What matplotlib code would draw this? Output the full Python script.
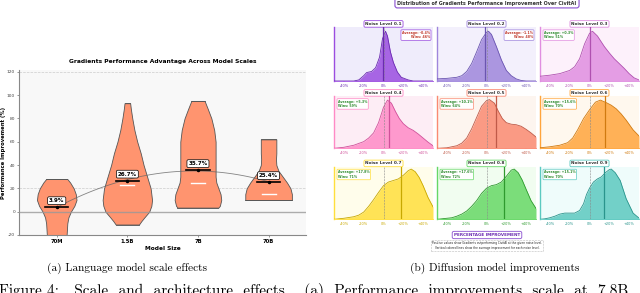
import numpy as np
import matplotlib
matplotlib.use("Agg")
import matplotlib.pyplot as plt

# ---------------- data: left violin chart ----------------
model_sizes = ["70M", "1.5B", "7B", "70B"]
mean_improvement = [3.9, 26.7, 35.7, 25.4]
median_improvement = [9.4, 22.6, 25.0, 15.4]
# violin profiles: y levels and half widths (category units)
v70m_y = [-22, -20, -10, -5, 0, 5, 10, 15, 20, 25, 28]
v70m_w = [0.14, 0.14, 0.15, 0.165, 0.2, 0.25, 0.28, 0.27, 0.24, 0.19, 0.15]
v15b_y = [-11, -8, -5, 0, 5, 10, 20, 30, 40, 50, 60, 70, 80, 88, 93]
v15b_w = [0.165, 0.2, 0.24, 0.31, 0.34, 0.35, 0.33, 0.28, 0.23, 0.19, 0.14, 0.1, 0.07, 0.05, 0.04]
v7b_y = [3.5, 5, 10, 15, 20, 25, 30, 40, 50, 60, 70, 80, 88, 95]
v7b_w = [0.29, 0.31, 0.33, 0.32, 0.29, 0.26, 0.25, 0.25, 0.25, 0.25, 0.23, 0.19, 0.14, 0.094]
v70b_y = [10, 15, 20, 25, 30, 35, 40, 45, 50, 55, 62]
v70b_w = [0.33, 0.33, 0.31, 0.26, 0.2, 0.14, 0.11, 0.105, 0.11, 0.11, 0.11]
violin_ys = [v70m_y, v15b_y, v7b_y, v70b_y]
violin_ws = [v70m_w, v15b_w, v7b_w, v70b_w]
y_ticks = [-20, 0, 20, 40, 60, 80, 100, 120]

# ---------------- data: right density panels ----------------
noise_levels = ["0.1", "0.2", "0.3", "0.4", "0.5", "0.6", "0.7", "0.8", "0.9"]
averages = [-0.4, -1.1, 0.3, 5.3, 10.1, 15.6, 17.8, 17.6, 15.1]
wins = [46, 48, 51, 59, 64, 70, 71, 72, 70]
d1_x = [-50, -30, -25, -20, -17, -12, -8, -4, -1, 2, 4, 7, 10, 14, 18, 25, 30, 50]
d1_h = [0, 0, 0.02, 0.1, 0.16, 0.18, 0.25, 0.45, 0.8, 0.94, 0.85, 0.55, 0.35, 0.17, 0.07, 0.02, 0, 0]
d2_x = [-50, -40, -30, -25, -20, -15, -10, -5, 0, 2, 5, 10, 15, 20, 25, 30, 35, 40, 50]
d2_h = [0.04, 0.05, 0.07, 0.1, 0.18, 0.33, 0.55, 0.78, 0.92, 0.94, 0.88, 0.65, 0.4, 0.2, 0.1, 0.04, 0.01, 0, 0]
d3_x = [-50, -40, -30, -20, -15, -10, -5, 0, 3, 8, 15, 20, 25, 30, 35, 40, 45, 50]
d3_h = [0.09, 0.11, 0.14, 0.2, 0.27, 0.42, 0.7, 0.9, 0.94, 0.85, 0.65, 0.53, 0.42, 0.33, 0.24, 0.14, 0.06, 0.02]
d4_x = [-50, -40, -30, -20, -15, -10, -5, 0, 4, 8, 12, 16, 20, 25, 30, 35, 40, 45, 50]
d4_h = [0, 0.02, 0.06, 0.13, 0.2, 0.3, 0.5, 0.8, 0.94, 0.88, 0.72, 0.58, 0.48, 0.4, 0.35, 0.28, 0.2, 0.12, 0.05]
d5_x = [-50, -40, -30, -25, -20, -15, -10, -5, 0, 3, 8, 12, 16, 20, 25, 30, 35, 40, 45, 50]
d5_h = [0, 0.01, 0.05, 0.1, 0.2, 0.38, 0.6, 0.82, 0.93, 0.95, 0.88, 0.72, 0.58, 0.5, 0.47, 0.46, 0.43, 0.37, 0.3, 0.22]
d6_x = [-50, -40, -30, -22, -17, -12, -6, 0, 6, 11, 17, 22, 27, 32, 37, 44, 50]
d6_h = [0.01, 0.03, 0.06, 0.11, 0.2, 0.36, 0.58, 0.75, 0.9, 0.94, 0.89, 0.84, 0.77, 0.67, 0.55, 0.36, 0.24]
d7_x = [-50, -40, -30, -25, -20, -15, -10, -5, 0, 5, 10, 15, 20, 25, 28, 32, 36, 40, 45, 50]
d7_h = [0, 0.02, 0.05, 0.08, 0.14, 0.25, 0.38, 0.52, 0.65, 0.72, 0.75, 0.78, 0.85, 0.94, 0.97, 0.92, 0.81, 0.65, 0.42, 0.24]
d8_x = [-50, -45, -35, -30, -25, -20, -15, -10, -5, 0, 5, 10, 15, 20, 25, 28, 32, 36, 40, 45, 50]
d8_h = [0, 0.01, 0.03, 0.06, 0.1, 0.16, 0.25, 0.36, 0.5, 0.6, 0.65, 0.67, 0.72, 0.83, 0.95, 0.97, 0.9, 0.76, 0.58, 0.36, 0.21]
d9_x = [-50, -45, -40, -35, -30, -25, -20, -15, -10, -6, -3, 0, 4, 8, 12, 16, 20, 22, 26, 31, 37, 44, 49, 50]
d9_h = [0, 0.01, 0.03, 0.06, 0.1, 0.12, 0.12, 0.12, 0.17, 0.3, 0.48, 0.6, 0.72, 0.78, 0.82, 0.9, 0.96, 0.97, 0.9, 0.75, 0.4, 0.12, 0.04, 0.03]
dens_x = [d1_x, d2_x, d3_x, d4_x, d5_x, d6_x, d7_x, d8_x, d9_x]
dens_h = [d1_h, d2_h, d3_h, d4_h, d5_h, d6_h, d7_h, d8_h, d9_h]
x_ticks = [-40, -20, 0, 20, 40]
x_ticklabels = ["-40%", "-20%", "0%", "+20%", "+40%"]

base_cols = ['#9b4de0', '#9f86dc', '#e08ee0', '#ff8ac6', '#fa8a72', '#ffa53c', '#ffdf3c', '#66d866', '#5cc9c0']
bg_cols = ['#efecfb', '#f3f0fc', '#fdf1fb', '#fdedf5', '#fdf5ef', '#fff8ee', '#fffdeb', '#f1fdf0', '#effcfb']
dark_cols = ['#6a2bb0', '#6a55b0', '#b050b0', '#d0509a', '#c05a48', '#d07a10', '#c8a800', '#2e9a2e', '#2a948c']

W, H = 640, 293
fig = plt.figure(figsize=(6.4, 2.93), dpi=100)


def rect(x0, y0, x1, y1):
    return [x0 / W, 1 - y1 / H, (x1 - x0) / W, (y1 - y0) / H]


# ---------------- left chart ----------------
ax = fig.add_axes(rect(19.3, 70, 306, 235))
ax.set_facecolor('#f8f8f8')
ax.set_xlim(-0.53, 3.53)
ax.set_ylim(-20, 121.5)
ax.axhline(20, color='#cccccc', lw=0.5, ls='--', zorder=0)
ax.axhline(120, color='#cccccc', lw=0.5, ls='--', zorder=0)
violin_col = '#ff946f'
for i in range(4):
    ys = np.array(violin_ys[i])
    ws = np.array(violin_ws[i])
    ax.fill_betweenx(ys, i - ws, i + ws, facecolor=violin_col, edgecolor='#555555', lw=0.6, zorder=2)
    ax.plot([i - ws[0], i + ws[0]], [ys[0], ys[0]], color='#555555', lw=0.6, zorder=2)
    ax.plot([i - ws[-1], i + ws[-1]], [ys[-1], ys[-1]], color='#555555', lw=0.6, zorder=2)
    ax.plot([i - 0.1, i + 0.1], [median_improvement[i]] * 2, color='white', lw=1.0, zorder=3)
ax.axhline(0, color='#999999', lw=1.0, alpha=0.8, zorder=4)
xs = np.arange(4)
coef = np.polyfit(xs, mean_improvement, 2)
xf = np.linspace(0, 3, 60)
ax.plot(xf, np.polyval(coef, xf), color='#666666', lw=0.6, alpha=0.8, zorder=5)
for i, m in enumerate(mean_improvement):
    ax.plot([i - 0.165, i + 0.165], [m, m], color='black', lw=1.2, zorder=6)
    ax.plot(i, m, 'o', color='black', ms=1.5, zorder=7)
    ax.text(i, m + 5.5, f"{m}%", ha='center', va='center', fontsize=4, fontweight='bold', zorder=8,
            bbox=dict(boxstyle='round,pad=0.25', fc='white', ec='black', lw=0.5))
ax.set_xticks(xs)
ax.set_xticklabels(model_sizes, fontsize=3.8, fontweight='bold')
ax.set_yticks(y_ticks)
ax.set_yticklabels([str(t) for t in y_ticks], fontsize=3.2, color='#444444')
ax.tick_params(axis='both', length=1.5, width=0.4, pad=1.5, colors='#444444')
ax.tick_params(axis='x', labelcolor='black')
for s in ['top', 'right']:
    ax.spines[s].set_visible(False)
for s in ['left', 'bottom']:
    ax.spines[s].set_color('#888888')
    ax.spines[s].set_linewidth(0.8)
ax.set_xlabel("Model Size", fontsize=4.2, fontweight='bold', labelpad=1.5)
ax.set_ylabel("Performance Improvement (%)", fontsize=3.8, fontweight='bold')
ax.yaxis.set_label_coords(-0.048, 0.5)
ax.set_title("Gradients Performance Advantage Across Model Scales", fontsize=4.3, fontweight='bold', pad=5)

# ---------------- right panels ----------------
col_x = [334, 437, 540]
row_y = [(27, 81), (96, 148.3), (166.5, 219.3)]
for k in range(9):
    r, c = divmod(k, 3)
    a = fig.add_axes(rect(col_x[c], row_y[r][0], col_x[c] + 99, row_y[r][1]))
    a.set_facecolor(bg_cols[k])
    a.set_xlim(-50, 50)
    a.set_ylim(0, 1.02)
    a.fill_between(dens_x[k], 0, dens_h[k], color=base_cols[k], alpha=0.85, lw=0, zorder=2)
    a.plot(dens_x[k], dens_h[k], color=dark_cols[k], lw=0.6, zorder=3)
    a.axvline(0, color='#888888', lw=0.4, ls='--', zorder=4)
    a.axvline(averages[k], color=dark_cols[k], lw=0.9, zorder=5)
    a.set_yticks([])
    a.set_xticks(x_ticks)
    a.set_xticklabels(x_ticklabels, fontsize=2.5, color=dark_cols[k])
    a.tick_params(axis='x', length=1, width=0.3, pad=1, colors=dark_cols[k])
    for s in ['top', 'right']:
        a.spines[s].set_visible(False)
    a.spines['left'].set_color(base_cols[k])
    a.spines['left'].set_linewidth(1.0)
    a.spines['bottom'].set_color(base_cols[k])
    a.spines['bottom'].set_linewidth(0.6)
    a.set_title(f"Noise Level {noise_levels[k]}", fontsize=3.1, fontweight='bold', color='#333333', pad=1.5,
                bbox=dict(boxstyle='round,pad=0.3', fc='white', ec=base_cols[k], lw=0.6))
    neg = averages[k] < 0
    txt = f"Average: {averages[k]:+.1f}%\nWins: {wins[k]}%"
    a.text(0.97 if neg else 0.04, 0.93, txt, transform=a.transAxes, ha='right' if neg else 'left', va='top',
           fontsize=2.3, color='#c0392b' if neg else '#2e8b2e', fontweight='bold', zorder=6, linespacing=1.2,
           bbox=dict(boxstyle='round,pad=0.3', fc='white', ec=base_cols[k], lw=0.5))

fig.text(487 / W, 1 - 3 / H, "Distribution of Gradients Performance Improvement Over CivitAI", ha='center', va='center',
         fontsize=3.5, fontweight='bold', color='#333333',
         bbox=dict(boxstyle='round,pad=0.5', fc='white', ec='#8a4fd0', lw=0.8))
fig.text(487 / W, 1 - 235 / H, "PERCENTAGE IMPROVEMENT", ha='center', va='center', fontsize=3.0, fontweight='bold',
         color='#6a2bb0', bbox=dict(boxstyle='round,pad=0.4', fc='white', ec='#8a4fd0', lw=0.6))
fig.text(487 / W, 1 - 245.5 / H,
         "Positive values show Gradients outperforming CivitAI at the given noise level.\n"
         "Vertical colored lines show the average improvement for each noise level.",
         ha='center', va='center', fontsize=2.1, color='#222222', linespacing=1.3,
         bbox=dict(boxstyle='square,pad=0.3', fc='white', ec='#bbbbbb', lw=0.4, ls='--'))

# ---------------- captions ----------------
fig.text(127 / W, 1 - 268 / H, "(a) Language model scale effects", ha='center', va='center', fontsize=8.1, family='cmr10')
fig.text(495 / W, 1 - 268 / H, "(b) Diffusion model improvements", ha='center', va='center', fontsize=8.1, family='cmr10')
fig.text(-1 / W, 1 - 283 / H, "Figure 4:   Scale  and  architecture  effects.   (a)  Performance  improvements  scale  at  7.8B",
         ha='left', va='top', fontsize=11, family='cmr10')

fig.savefig("out.png", dpi=100)
